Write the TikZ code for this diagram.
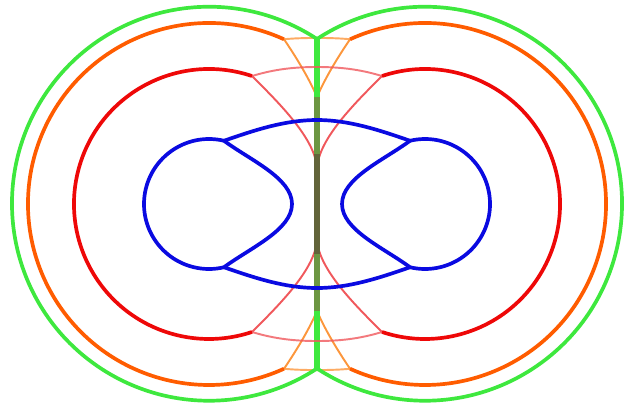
\documentclass[tikz,border=0pt]{standalone}
\usepackage{xcolor}
\usepackage{tikz}
\definecolor{frontgreen}{RGB}{62, 232, 62}
\definecolor{frontorange}{RGB}{255, 92, 0}
\definecolor{thinorange}{RGB}{252, 150, 60}
\definecolor{frontred}{RGB}{238, 8, 8}
\definecolor{thinred}{RGB}{240, 88, 92}
\definecolor{frontblue}{RGB}{10, 10, 225}
\definecolor{axismid}{RGB}{108, 150, 66}
\definecolor{axisdark}{RGB}{98, 100, 58}

\begin{document}
\begin{tikzpicture}[
  x = 0.02cm, y = -0.02cm,
  front/.style = {line width=2.1pt},
  thinfront/.style = {line width=1.1pt},
  axisline/.style = {line width=3.3pt}
]
\useasboundingbox (0,0) rectangle (634,406);

% centres of the two lobes
\coordinate (cl) at (209,204);
\coordinate (cr) at (425,204);

% junctions of thick and thin parts
\path (cl) ++(-65.52:181) coordinate (o1) (cr) ++(-114.48:181) coordinate (o2);
\path (cl) ++(65.52:181)  coordinate (o3) (cr) ++(114.48:181)  coordinate (o4);
\path (cl) ++(-71.43:135) coordinate (r1) (cr) ++(-108.57:135) coordinate (r2);
\path (cl) ++(71.43:135)  coordinate (r3) (cr) ++(108.57:135)  coordinate (r4);
\path (cl) ++(-76.66:65)  coordinate (b1) (cr) ++(-103.34:65)  coordinate (b2);
\path (cl) ++(76.66:65)   coordinate (b3) (cr) ++(103.34:65)   coordinate (b4);
\coordinate (gt) at (317,39);
\coordinate (gb) at (317,369);

% thin branches running into the axis
\draw[thinfront, thinorange] (o1) .. controls (294,54) and (308,76) .. (317,97);
\draw[thinfront, thinorange] (o2) .. controls (340,54) and (326,76) .. (317,97);
\draw[thinfront, thinorange] (o3) .. controls (294,354) and (308,332) .. (317,311);
\draw[thinfront, thinorange] (o4) .. controls (340,354) and (326,332) .. (317,311);
\draw[thinfront, thinred] (r1) .. controls (278,102) and (317,140) .. (317,170);
\draw[thinfront, thinred] (r2) .. controls (356,102) and (317,140) .. (317,170);
\draw[thinfront, thinred] (r3) .. controls (278,306) and (317,268) .. (317,238);
\draw[thinfront, thinred] (r4) .. controls (356,306) and (317,268) .. (317,238);

% axis
\draw[axisline, frontgreen] (gt) -- (317,97);
\draw[axisline, axismid]    (317,97) -- (317,154);
\draw[axisline, axisdark]   (317,154) -- (317,254);
\draw[axisline, axismid]    (317,254) -- (317,311);
\draw[axisline, frontgreen] (317,311) -- (gb);

% thin arcs across the axis
\draw[thinfront, thinorange, opacity=0.8] (o1) .. controls (300,37.5) and (334,37.5) .. (o2);
\draw[thinfront, thinorange, opacity=0.8] (o3) .. controls (300,370.5) and (334,370.5) .. (o4);
\draw[thinfront, thinred, opacity=0.8] (r1) .. controls (275,69) and (295,67) .. (317,67)
  .. controls (339,67) and (359,69) .. (r2);
\draw[thinfront, thinred, opacity=0.8] (r3) .. controls (275,339) and (295,341) .. (317,341)
  .. controls (339,341) and (359,339) .. (r4);

% thick fronts
\draw[front, frontgreen] (gt) arc[start angle=-56.75, end angle=-303.25, radius=197];
\draw[front, frontgreen] (gt) arc[start angle=-123.25, end angle=123.25, radius=197];
\draw[front, frontorange] (o1) arc[start angle=-65.52, end angle=-294.48, radius=181];
\draw[front, frontorange] (o2) arc[start angle=-114.48, end angle=114.48, radius=181];
\draw[front, frontred] (r1) arc[start angle=-71.43, end angle=-288.57, radius=135];
\draw[front, frontred] (r2) arc[start angle=-108.57, end angle=108.57, radius=135];
\draw[front, frontblue] (b1) arc[start angle=-76.66, end angle=-283.34, radius=65];
\draw[front, frontblue] (b2) arc[start angle=-103.34, end angle=103.34, radius=65];

% blue inner and outer branches
\draw[front, frontblue] (b1) .. controls (250,160) and (292,178) .. (292,204)
  .. controls (292,230) and (250,248) .. (b3);
\draw[front, frontblue] (b2) .. controls (384,160) and (342,178) .. (342,204)
  .. controls (342,230) and (384,248) .. (b4);
\draw[front, frontblue] (b1) .. controls (255,130) and (285,120) .. (317,120)
  .. controls (349,120) and (379,130) .. (b2);
\draw[front, frontblue] (b3) .. controls (255,278) and (285,288) .. (317,288)
  .. controls (349,288) and (379,278) .. (b4);

\end{tikzpicture}
\end{document}
